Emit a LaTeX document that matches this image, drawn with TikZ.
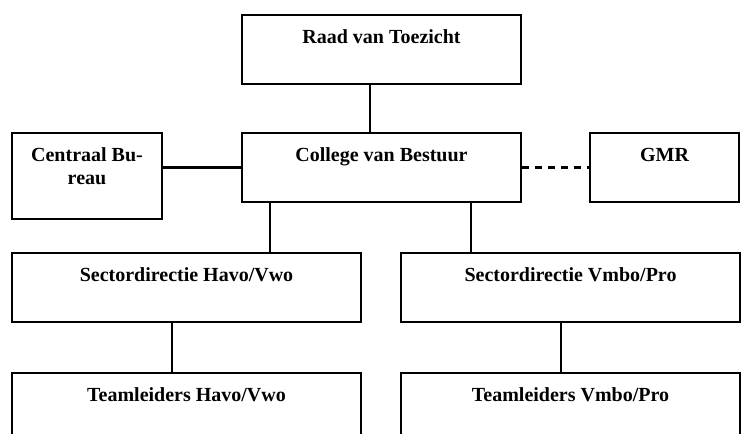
\documentclass[tikz,border=0pt]{standalone}
\usepackage{fontspec}
\setmainfont{Liberation Serif}
\begin{document}
\begin{tikzpicture}[x=0.75pt,y=-0.75pt,
  font=\bfseries\fontsize{15}{17.25}\selectfont,
  box/.style={draw, line width=1.2pt, inner sep=0pt, align=center, text height=21.4pt, text depth=30.4pt},
  link/.style={line width=1.7pt},
  dashlink/.style={link, dash pattern=on 5.25pt off 4.5pt}
]
\useasboundingbox (0,0) rectangle (741,434);
\node[box, minimum width=209.25pt] (raad)     at (381.5,49.5)  {Raad van Toezicht};
\node[box, minimum width=209.25pt] (college)  at (381.5,167.5) {College van Bestuur};
\node[box, minimum width=112.5pt, text height=38.6pt, text depth=25.9pt] (centraal) at (87,176) {Centraal Bu-\\reau};
\node[box, minimum width=111.75pt] (gmr)      at (664.5,167.5) {GMR};
\node[box, minimum width=261.75pt] (sechv)    at (186.5,287.5) {Sectordirectie Havo/Vwo};
\node[box, minimum width=254.25pt] (secvp)    at (570.5,287.5) {Sectordirectie Vmbo/Pro};
\node[box, minimum width=261.75pt] (teamhv)   at (186.5,407.5) {Teamleiders Havo/Vwo};
\node[box, minimum width=254.25pt] (teamvp)   at (570.5,407.5) {Teamleiders Vmbo/Pro};
\draw[link] ([xshift=-8.6pt]raad.south) -- ([xshift=-8.6pt]college.north);
\draw[link] (centraal.east |- college.west) -- (college.west);
\draw[dashlink] (college.east) -- (gmr.west);
\draw[link] ([xshift=21.75pt]college.south west) -- ([xshift=21.75pt]college.south west |- sechv.north);
\draw[link] ([xshift=-38.25pt]college.south east) -- ([xshift=-38.25pt]college.south east |- secvp.north);
\draw[link] ([xshift=-10.9pt]sechv.south) -- ([xshift=-10.9pt]teamhv.north);
\draw[link] ([xshift=-7.1pt]secvp.south) -- ([xshift=-7.1pt]teamvp.north);
\end{tikzpicture}
\end{document}
